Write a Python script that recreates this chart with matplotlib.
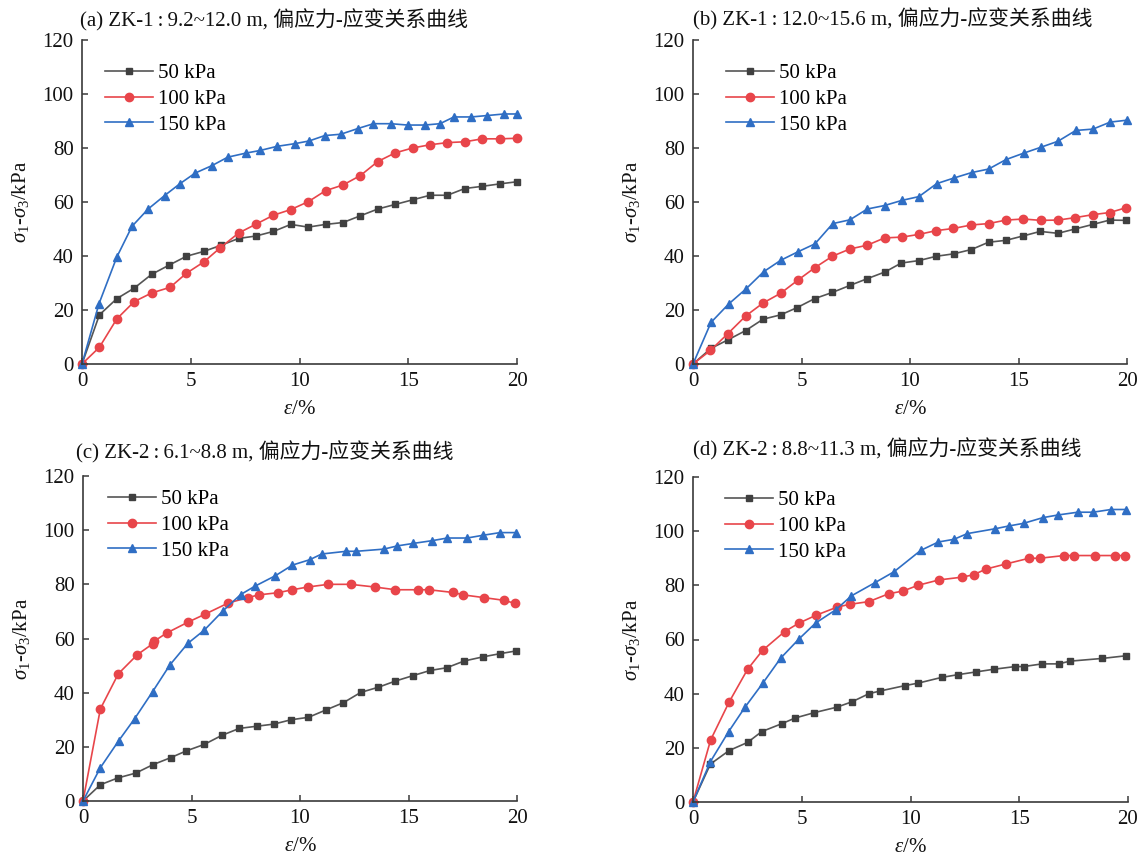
import matplotlib
matplotlib.use("Agg")
import matplotlib.pyplot as plt

plt.rcParams['font.family'] = ['Liberation Serif', 'Noto Sans CJK SC', 'DejaVu Serif']
plt.rcParams['mathtext.fontset'] = 'custom'
plt.rcParams['mathtext.rm'] = 'Liberation Serif'
plt.rcParams['mathtext.it'] = 'Liberation Serif:italic'
plt.rcParams['mathtext.bf'] = 'Liberation Serif:bold'

# ---------------- data ----------------
titles = [
    "(a) ZK-1\u2009:\u20099.2~12.0 m, 偏应力-应变关系曲线",
    "(b) ZK-1\u2009:\u200912.0~15.6 m, 偏应力-应变关系曲线",
    "(c) ZK-2\u2009:\u20096.1~8.8 m, 偏应力-应变关系曲线",
    "(d) ZK-2\u2009:\u20098.8~11.3 m, 偏应力-应变关系曲线",
]
series_labels = ["50 kPa", "100 kPa", "150 kPa"]

# panel (a)
a50_x = [0, 0.8, 1.6, 2.4, 3.2, 4.0, 4.8, 5.6, 6.4, 7.2, 8.0, 8.8, 9.6, 10.4, 11.2, 12.0, 12.8, 13.6, 14.4, 15.2, 16.0, 16.8, 17.6, 18.4, 19.2, 20.0]
a50_y = [0, 18.2, 24.2, 28.1, 33.2, 36.6, 39.9, 41.7, 44.0, 46.5, 47.4, 49.1, 51.7, 50.7, 51.7, 52.4, 54.9, 57.4, 59.1, 60.8, 62.5, 62.5, 65.0, 65.8, 66.7, 67.5]
a100_x = [0, 0.8, 1.6, 2.4, 3.2, 4.05, 4.8, 5.6, 6.35, 7.2, 8.0, 8.8, 9.6, 10.4, 11.2, 12.0, 12.8, 13.6, 14.4, 15.2, 16.0, 16.8, 17.6, 18.4, 19.2, 20.0]
a100_y = [0, 6.2, 16.7, 23.1, 26.3, 28.4, 33.6, 37.8, 43.0, 48.5, 51.8, 55.1, 57.2, 60.1, 64.2, 66.3, 69.8, 75.0, 78.2, 80.0, 81.2, 82.0, 82.3, 83.4, 83.4, 83.6]
a150_x = [0, 0.78, 1.6, 2.3, 3.04, 3.8, 4.49, 5.2, 5.98, 6.7, 7.53, 8.2, 8.96, 9.78, 10.44, 11.16, 11.9, 12.68, 13.4, 14.19, 14.97, 15.76, 16.46, 17.1, 17.9, 18.6, 19.4, 20.0]
a150_y = [0, 22.3, 39.6, 51.0, 57.4, 62.4, 66.7, 70.7, 73.5, 76.6, 78.1, 79.1, 80.6, 81.6, 82.6, 84.6, 85.1, 87.2, 89.0, 89.0, 88.5, 88.5, 89.0, 91.5, 91.5, 92.0, 92.6, 92.6]

# panel (b)
b50_x = [0, 0.83, 1.6, 2.43, 3.23, 4.04, 4.8, 5.6, 6.42, 7.23, 8.03, 8.85, 9.6, 10.41, 11.21, 12.01, 12.83, 13.62, 14.42, 15.2, 16.0, 16.82, 17.6, 18.43, 19.2, 19.97]
b50_y = [0, 5.8, 8.9, 12.4, 16.6, 18.2, 20.9, 24.2, 26.5, 29.1, 31.6, 34.1, 37.4, 38.3, 39.9, 40.8, 42.4, 45.1, 45.8, 47.4, 49.1, 48.4, 50.0, 51.7, 53.3, 53.2]
b100_x = [0, 0.8, 1.6, 2.43, 3.23, 4.04, 4.84, 5.62, 6.42, 7.23, 8.03, 8.83, 9.63, 10.41, 11.21, 12.0, 12.83, 13.62, 14.42, 15.22, 16.02, 16.82, 17.6, 18.42, 19.2, 19.97]
b100_y = [0, 5.0, 11.2, 17.8, 22.6, 26.2, 31.1, 35.7, 39.9, 42.6, 44.0, 46.7, 47.0, 48.0, 49.4, 50.2, 51.5, 52.0, 53.3, 53.7, 53.2, 53.3, 54.2, 55.3, 56.1, 57.9]
b150_x = [0, 0.83, 1.64, 2.44, 3.26, 4.04, 4.82, 5.62, 6.44, 7.23, 8.03, 8.83, 9.63, 10.41, 11.23, 12.03, 12.84, 13.62, 14.42, 15.24, 16.04, 16.82, 17.64, 18.43, 19.23, 20.0]
b150_y = [0, 15.4, 22.2, 27.8, 34.2, 38.4, 41.5, 44.5, 52.0, 53.4, 57.4, 58.7, 60.6, 62.0, 66.8, 68.9, 70.9, 72.2, 75.7, 78.1, 80.3, 82.5, 86.5, 87.0, 89.6, 90.3]

# panel (c)
c50_x = [0, 0.8, 1.6, 2.43, 3.22, 4.04, 4.76, 5.59, 6.39, 7.2, 8.0, 8.8, 9.59, 10.39, 11.19, 12.0, 12.8, 13.61, 14.4, 15.21, 16.0, 16.76, 17.57, 18.42, 19.22, 19.95]
c50_y = [0, 6.0, 8.5, 10.3, 13.4, 16.0, 18.5, 20.9, 24.2, 26.8, 27.6, 28.4, 30.0, 30.9, 33.6, 36.3, 40.1, 42.0, 44.3, 46.3, 48.2, 49.2, 51.7, 53.2, 54.4, 55.4]
c100_x = [0, 0.8, 1.63, 2.5, 3.22, 3.28, 3.85, 4.83, 5.63, 6.69, 7.6, 8.09, 8.98, 9.65, 10.35, 11.3, 12.33, 13.46, 14.4, 15.46, 15.95, 17.05, 17.53, 18.47, 19.4, 19.89]
c100_y = [0, 34.0, 47.0, 54.0, 58.1, 59.0, 62.0, 66.0, 69.0, 73.1, 75.1, 76.1, 76.9, 78.0, 79.0, 80.0, 80.0, 79.0, 78.0, 78.0, 78.0, 77.0, 76.1, 75.1, 74.1, 73.0]
c150_x = [0, 0.8, 1.64, 2.38, 3.21, 4.0, 4.83, 5.59, 6.45, 7.26, 7.92, 8.87, 9.65, 10.45, 11.0, 12.13, 12.6, 13.86, 14.49, 15.21, 16.07, 16.79, 17.7, 18.42, 19.22, 19.95]
c150_y = [0, 12.3, 22.2, 30.4, 40.4, 50.2, 58.2, 63.1, 70.2, 76.2, 79.3, 83.2, 87.1, 89.1, 91.2, 92.2, 92.2, 93.0, 94.2, 95.1, 96.1, 97.1, 97.1, 98.1, 99.1, 99.1]

# panel (d)
d50_x = [0, 0.8, 1.66, 2.51, 3.16, 4.08, 4.69, 5.58, 6.61, 7.31, 8.09, 8.61, 9.76, 10.36, 11.43, 12.17, 12.99, 13.82, 14.8, 15.2, 16.05, 16.81, 17.33, 18.8, 19.92]
d50_y = [0, 14.0, 19.0, 22.0, 26.0, 28.9, 31.0, 33.0, 35.0, 37.0, 40.0, 41.0, 43.0, 43.9, 46.0, 47.0, 48.0, 49.0, 50.0, 50.0, 51.0, 51.0, 52.0, 53.0, 54.0]
d100_x = [0, 0.81, 1.66, 2.51, 3.2, 4.21, 4.86, 5.64, 6.64, 7.22, 8.09, 9.0, 9.66, 10.34, 11.31, 12.35, 12.9, 13.47, 14.39, 15.45, 15.94, 17.06, 17.52, 18.47, 19.4, 19.86]
d100_y = [0, 22.9, 36.9, 49.0, 56.0, 62.9, 66.0, 68.9, 72.0, 73.0, 74.0, 76.9, 77.9, 80.0, 82.0, 83.0, 83.9, 86.0, 87.9, 90.0, 90.0, 91.0, 91.0, 91.0, 91.0, 91.0]
d150_x = [0, 0.8, 1.64, 2.39, 3.23, 4.03, 4.86, 5.64, 6.57, 7.28, 8.37, 9.24, 10.47, 11.28, 12.0, 12.61, 13.9, 14.51, 15.2, 16.09, 16.8, 17.69, 18.39, 19.22, 19.92]
d150_y = [0, 14.9, 26.0, 35.0, 44.1, 53.1, 60.1, 66.1, 71.0, 76.1, 81.0, 85.0, 92.9, 96.0, 97.0, 99.1, 100.9, 101.9, 102.9, 105.0, 106.0, 107.0, 107.0, 108.0, 108.0]

panels = [
    [(a50_x, a50_y), (a100_x, a100_y), (a150_x, a150_y)],
    [(b50_x, b50_y), (b100_x, b100_y), (b150_x, b150_y)],
    [(c50_x, c50_y), (c100_x, c100_y), (c150_x, c150_y)],
    [(d50_x, d50_y), (d100_x, d100_y), (d150_x, d150_y)],
]

x_ticks = [0, 5, 10, 15, 20]
y_ticks = [0, 20, 40, 60, 80, 100, 120]

# ---------------- styling ----------------
W, H = 1141, 860
fig = plt.figure(figsize=(W / 100, H / 100), dpi=100)

# axes boxes in pixels: left, top, right, bottom
boxes = [
    (82, 40, 517, 364),
    (693, 40, 1127, 364),
    (83, 476, 517, 801),
    (693, 477, 1128, 802),
]
legend_off = [(23, 32), (33, 32), (25, 22), (32, 22)]
title_pos = [(80, 26), (693, 25), (76, 458), (693, 455)]

styles = [
    dict(color='#555555', marker='s', markersize=5, markerfacecolor='#404040', markeredgecolor='#404040'),
    dict(color='#e8454a', marker='o', markersize=6, markerfacecolor='#e8454a', markeredgecolor='#e8454a'),
    dict(color='#2f6ec4', marker='^', markersize=6, markerfacecolor='#2f6ec4', markeredgecolor='#2f6ec4'),
]

axis_color = '#3a3a3a'
fs = 15

for i, (box, data) in enumerate(zip(boxes, panels)):
    l, t, r, b = box
    ax = fig.add_axes([l / W, 1 - b / H, (r - l) / W, (b - t) / H])
    for (xs, ys), lab, st in zip(data, series_labels, styles):
        ax.plot(xs, ys, linewidth=1.2, label=lab, clip_on=False, **st)
    ax.set_xlim(0, 20)
    ax.set_ylim(0, 120)
    ax.set_xticks(x_ticks)
    ax.set_yticks(y_ticks)
    for s in ['top', 'right']:
        ax.spines[s].set_visible(False)
    for s in ['left', 'bottom']:
        ax.spines[s].set_color(axis_color)
        ax.spines[s].set_linewidth(1.2)
    ax.tick_params(direction='in', length=4, width=1.1, colors=axis_color,
                   labelcolor='#111111', labelsize=fs, pad=6)
    ax.set_xlabel(r'$\varepsilon$/%', fontsize=fs, color='#111111')
    ax.set_ylabel(r'$\sigma_1$-$\sigma_3$/kPa', fontsize=fs, color='#111111')
    ax.xaxis.set_label_coords(0.5, -(400 - 364) / 324)
    ax.yaxis.set_label_coords((31 - 82) / (r - l), 0.5)
    tx, ty = title_pos[i]
    fig.text(tx / W, 1 - ty / H, titles[i], fontsize=fs, color='#111111',
             ha='left', va='baseline')
    ox, oy = legend_off[i]
    ax.legend(loc='upper left', frameon=False, fontsize=fs,
              bbox_to_anchor=(ox / (r - l), 1 - (oy - 8.5) / (b - t)),
              borderaxespad=0, borderpad=0, handlelength=2.3,
              handletextpad=0.25, labelspacing=0.3)

fig.savefig('out.png', dpi=100)
